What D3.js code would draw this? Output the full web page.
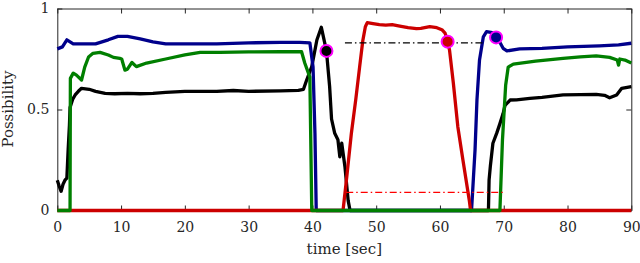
<!DOCTYPE html>
<html>
<head>
<meta charset="utf-8">
<script src="https://cdn.jsdelivr.net/npm/d3@7"></script>
<style>
  body { margin: 0; background: #fff; }
  svg { display: block; }
  text { font-family: "DejaVu Serif", serif; fill: #262626; }
</style>
</head>
<body>
<svg id="chart"></svg>
<script>
// series values (time in sec, possibility 0..1)
var blueX = [0, 0.8, 1.5, 2.5, 4, 6, 8, 9.5, 11, 13, 15, 17, 20, 25, 30, 35, 38, 39.6, 40.1, 40.4, 40.6, 64.95, 65.5, 65.8, 66.2, 66.8, 67.3, 68.2, 69.0, 69.9, 70.5, 72.5, 76, 80, 85, 88, 90];
var blueY = [0.80, 0.81, 0.845, 0.825, 0.825, 0.825, 0.845, 0.862, 0.862, 0.85, 0.835, 0.825, 0.825, 0.825, 0.83, 0.832, 0.832, 0.83, 0.71, 0.38, 0, 0, 0.3, 0.547, 0.745, 0.86, 0.885, 0.88, 0.855, 0.803, 0.79, 0.80, 0.803, 0.81, 0.815, 0.82, 0.828];

var greenX = [0, 2.0, 2.05, 2.5, 3.0, 3.8, 4.3, 4.9, 5.6, 6.7, 8.0, 8.8, 9.8, 10.1, 10.6, 11.0, 11.7, 12.4, 14, 17, 20, 22.4, 25.5, 30, 35, 38.3, 38.8, 39.6, 39.9, 69.4, 69.8, 70.3, 70.7, 71.5, 75, 79.3, 82, 84.5, 86.6, 87.8, 88.0, 88.2, 89, 90];
var greenY = [0, 0, 0.654, 0.68, 0.67, 0.646, 0.71, 0.76, 0.778, 0.783, 0.77, 0.758, 0.753, 0.75, 0.695, 0.70, 0.733, 0.712, 0.73, 0.75, 0.77, 0.783, 0.783, 0.785, 0.786, 0.786, 0.73, 0.66, 0, 0, 0.35, 0.62, 0.71, 0.725, 0.74, 0.753, 0.76, 0.765, 0.758, 0.745, 0.72, 0.75, 0.745, 0.73];

var blackX = [0, 0.3, 0.6, 0.9, 1.2, 1.5, 1.7, 1.9, 2.0, 2.4, 2.8, 3.3, 3.8, 5, 6, 7.5, 9, 11, 13, 15, 17, 20, 25, 27.6, 30, 35, 37.8, 38.6, 39.1, 39.9, 40.7, 41.4, 42.2, 42.7, 43.0, 43.5, 44.0, 44.3, 44.6, 45.1, 45.6, 45.9, 67.6, 67.7, 67.9, 68.3, 68.9, 69.4, 69.9, 70.2, 71, 72, 74.1, 76, 79.3, 82, 84.5, 85.8, 86.6, 87.7, 88.5, 90];
var blackY = [0.15, 0.12, 0.095, 0.13, 0.15, 0.16, 0.3, 0.42, 0.51, 0.55, 0.572, 0.59, 0.605, 0.6, 0.59, 0.58, 0.578, 0.58, 0.578, 0.58, 0.585, 0.59, 0.59, 0.594, 0.59, 0.592, 0.595, 0.6, 0.646, 0.712, 0.844, 0.907, 0.79, 0.613, 0.453, 0.382, 0.35, 0.266, 0.333, 0.217, 0.05, 0, 0, 0.15, 0.22, 0.333, 0.383, 0.43, 0.48, 0.52, 0.547, 0.548, 0.555, 0.56, 0.572, 0.574, 0.575, 0.57, 0.558, 0.572, 0.605, 0.613];

var redX = [0, 44.8, 45.4, 46.1, 46.8, 47.4, 47.9, 48.3, 48.6, 49.5, 50.5, 51.5, 52.5, 53.7, 55, 56.3, 57, 58.4, 59.5, 60.3, 60.8, 61.2, 61.5, 62.1, 62.8, 63.6, 64.6, 64.8, 90];
var redY = [0, 0, 0.17, 0.38, 0.55, 0.71, 0.84, 0.91, 0.93, 0.925, 0.92, 0.918, 0.92, 0.913, 0.905, 0.90, 0.902, 0.91, 0.905, 0.895, 0.878, 0.836, 0.794, 0.63, 0.415, 0.25, 0.05, 0, 0];

// dash-dot reference levels
var refBlackX = [45.1, 67.0], refBlackY = 0.83;
var refRedX = [45.3, 70.0], refRedY = 0.09;

// marked points
var markX = [42.2, 61.2, 68.8];
var markY = [0.79, 0.836, 0.857];
var markColor = ["#000000", "#cc0000", "#00008b"];

var xTicks = [0, 10, 20, 30, 40, 50, 60, 70, 80, 90];
var yTicks = [0, 0.5, 1];

var margin = { top: 8.5, right: 8.7, bottom: 52.5, left: 57.3 },
  width = 640 - margin.left - margin.right,
  height = 263 - margin.top - margin.bottom;

var svg = d3.select("#chart")
  .attr("width", 640)
  .attr("height", 263);

var g = svg.append("g")
  .attr("transform", "translate(" + margin.left + "," + margin.top + ")");

var x = d3.scaleLinear().domain([0, 90]).range([0, width]);
var y = d3.scaleLinear().domain([0, 1]).range([height, 0]);

// axes first (data is drawn over them), ticks inward
var axisColor = "#262626";

var xAxis = g.append("g")
  .attr("transform", "translate(0," + height + ")")
  .call(d3.axisBottom(x).tickValues(xTicks).tickSizeInner(-5).tickSizeOuter(0).tickPadding(12));
var xTop = g.append("g")
  .call(d3.axisTop(x).tickValues(xTicks).tickSizeInner(-5).tickSizeOuter(0).tickFormat(""));
var yAxis = g.append("g")
  .call(d3.axisLeft(y).tickValues(yTicks).tickSizeInner(-5).tickSizeOuter(0).tickPadding(8).tickFormat(d3.format("~g")));
var yRight = g.append("g")
  .attr("transform", "translate(" + width + ",0)")
  .call(d3.axisRight(y).tickValues(yTicks).tickSizeInner(-5).tickSizeOuter(0).tickFormat(""));

[xAxis, xTop, yAxis, yRight].forEach(function (a) {
  a.selectAll("path").attr("stroke", axisColor).attr("stroke-width", 1);
  a.selectAll("line").attr("stroke", axisColor).attr("stroke-width", 1);
  a.selectAll("text")
    .attr("font-family", "DejaVu Serif, serif")
    .attr("font-size", 14)
    .attr("fill", axisColor);
});

var line = d3.line()
  .x(function (d) { return x(d[0]); })
  .y(function (d) { return y(d[1]); });

function pairs(xs, ys) {
  return xs.map(function (v, i) { return [v, ys[i]]; });
}

// draw order: black, blue, red, green (green sits on top along zero)
var series = [
  { xs: blackX, ys: blackY, color: "#000000" },
  { xs: blueX, ys: blueY, color: "#00008b" },
  { xs: redX, ys: redY, color: "#cc0000" },
  { xs: greenX, ys: greenY, color: "#007f00" }
];

series.forEach(function (s) {
  g.append("path")
    .datum(pairs(s.xs, s.ys))
    .attr("d", line)
    .attr("fill", "none")
    .attr("stroke", s.color)
    .attr("stroke-width", 3.3)
    .attr("stroke-linejoin", "round");
});

// dash-dot lines
g.append("path")
  .datum([[refBlackX[0], refBlackY], [refBlackX[1], refBlackY]])
  .attr("d", line)
  .attr("fill", "none")
  .attr("stroke", "#000")
  .attr("stroke-width", 1.3)
  .attr("stroke-dasharray", "7,3,1.5,3");

g.append("path")
  .datum([[refRedX[0], refRedY], [refRedX[1], refRedY]])
  .attr("d", line)
  .attr("fill", "none")
  .attr("stroke", "#ff0000")
  .attr("stroke-width", 1.3)
  .attr("stroke-dasharray", "7,3,1.5,3");

// markers
g.selectAll(".mark")
  .data(markX)
  .enter()
  .append("circle")
  .attr("class", "mark")
  .attr("cx", function (d) { return x(d); })
  .attr("cy", function (d, i) { return y(markY[i]); })
  .attr("r", 6)
  .attr("fill", function (d, i) { return markColor[i]; })
  .attr("stroke", "#ff00ff")
  .attr("stroke-width", 2);

// axis labels
svg.append("text")
  .attr("x", margin.left + width / 2)
  .attr("y", 254)
  .attr("text-anchor", "middle")
  .attr("font-size", 15)
  .text("time [sec]");

svg.append("text")
  .attr("transform", "translate(13,109) rotate(-90)")
  .attr("text-anchor", "middle")
  .attr("font-size", 15)
  .text("Possibility");
</script>
</body>
</html>
